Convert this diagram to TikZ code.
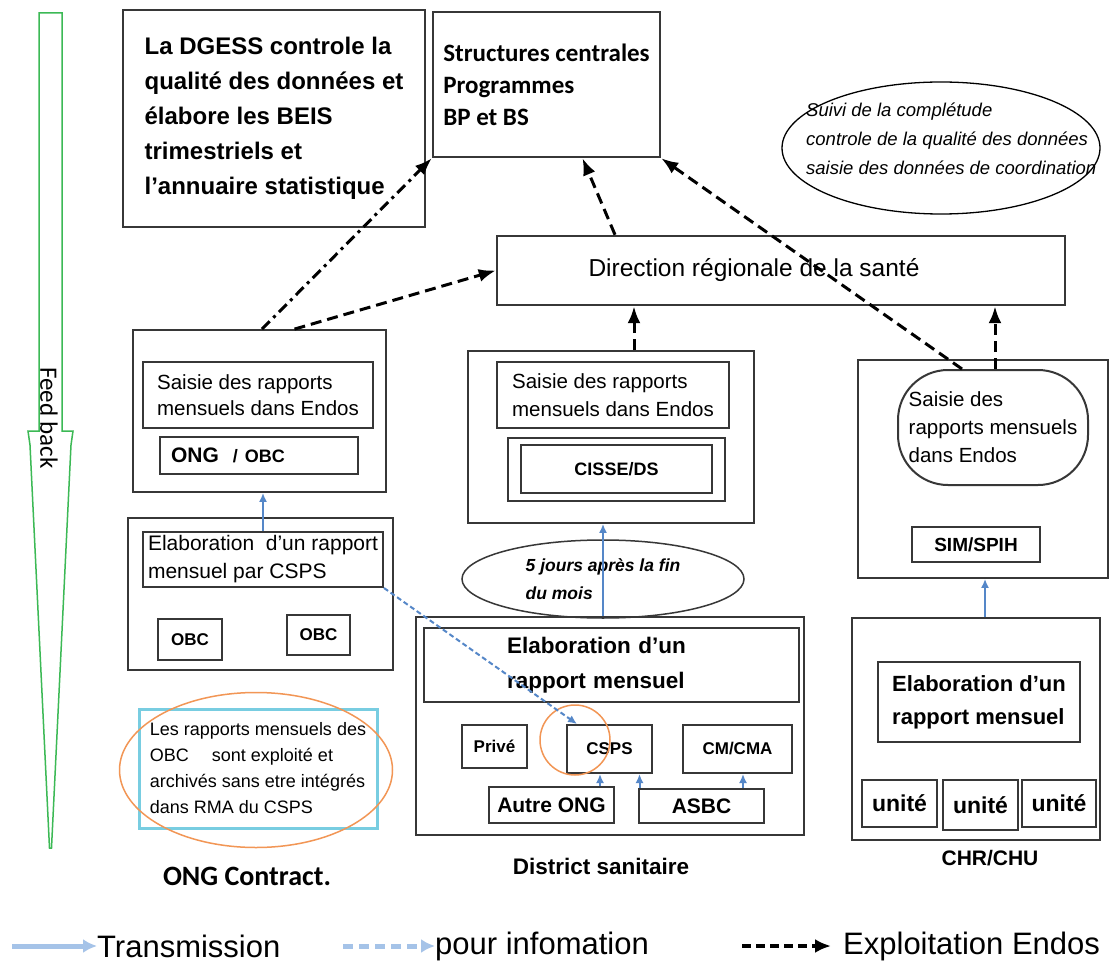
\documentclass[tikz,border=0pt]{standalone}
\usepackage{fontspec}
\setmainfont{Liberation Sans}
\newfontfamily\calfont{Carlito}
\usepackage{tikz}
\usetikzlibrary{arrows.meta,shapes.geometric,positioning}
\definecolor{boxgray}{RGB}{55,55,55}
\definecolor{transblue}{RGB}{85,135,200}
\definecolor{legblue}{RGB}{165,195,232}
\definecolor{fbgreen}{RGB}{60,185,85}
\definecolor{noteorange}{RGB}{242,150,85}
\definecolor{notecyan}{RGB}{120,205,225}
\newcommand{\fsz}[2]{\fontsize{#1}{#2}\selectfont}
\tikzstyle{box} = [rectangle, draw=boxgray, line width=2pt, inner sep=0pt, align=left]
\tikzstyle{frame} = [rectangle, draw=boxgray, line width=1.8pt, inner sep=0pt]
\tikzstyle{tag} = [box, align=center, font=\bfseries\fsz{17}{20}]
\tikzstyle{trans} = [line width=2pt, color=transblue, -{Latex[length=9pt,width=8pt]}]
\tikzstyle{info} = [line width=2pt, color=transblue, dash pattern=on 5pt off 3pt, -{Latex[length=9pt,width=8pt]}]
\tikzstyle{exploit} = [line width=3pt, dash pattern=on 11pt off 6pt, -{Latex[length=17pt,width=13pt]}]
\tikzstyle{exploitdot} = [line width=3pt, dash pattern=on 11pt off 5pt on 3pt off 5pt, -{Latex[length=17pt,width=13pt]}]

\begin{document}
\begin{tikzpicture}[x=1pt, y=-1pt]
\useasboundingbox (0,0) rectangle (1113,965);
\fill[white] (0,0) rectangle (1113,965);

% Feed back
\draw[fbgreen, line width=1.5pt] (39,13) -- (62,13) -- (62,431) -- (73,431) -- (71,445) -- (51.5,848) -- (49.5,848) -- (30,445) -- (28,431) -- (39,431) -- cycle;
\node (fb) [rotate=-90, font=\calfont\fsz{25}{28}] at (49,418) {Feed back};

% Central level
\node (dgess) [box, line width=2.5pt, minimum width=302, minimum height=217, font=\bfseries\fsz{24}{35}] at (274,118.5) {La DGESS controle la\\qualité des données et\\élabore les BEIS\\trimestriels et\\l'annuaire statistique};
\node (struct) [box, line width=2.5pt, minimum width=227, minimum height=145, font=\calfont\bfseries\fsz{25}{32}] at (546.5,84.5) {Structures centrales\\Programmes\\BP et BS};
\node (suivi) [ellipse, draw, line width=1.3pt, minimum width=318, minimum height=132, inner sep=0pt] at (941,148) {};
\node (suivitxt) [anchor=west, inner sep=0pt, align=left, font=\itshape\fsz{18.5}{29}] at (806,139) {Suivi de la complétude\\controle de la qualité des données\\saisie des données de coordination};
\node (dir) [box, line width=2.5pt, minimum width=568, minimum height=69, font=\fsz{24.5}{28}] at (781,270.5) {Direction régionale de la santé\hspace*{54pt}};

% ONG Contract.
\node (ongout) [frame, minimum width=253, minimum height=162] at (259.5,411) {};
\node (saisieong) [box, minimum width=230, minimum height=66, font=\fsz{20.5}{26}] at (258,395) {Saisie des rapports\\mensuels dans Endos};
\node (ongobc) [box, minimum width=198, minimum height=37, text width=176, font=\bfseries\fsz{21}{24}] at (259,455.5) {ONG\ \ {\fsz{18}{24}/ OBC}};
\node (ongelab) [frame, line width=1.5pt, minimum width=265, minimum height=152] at (260.5,594) {};
\node (elabcsps) [box, minimum width=240, minimum height=55, font=\fsz{21}{28}] at (263,559.5) {Elaboration\ \ d'un rapport\\mensuel par CSPS};
\node (obca) [tag, minimum width=64, minimum height=41] at (190,639.5) {OBC};
\node (obcb) [tag, minimum width=63, minimum height=40] at (318.5,635) {OBC};
\node (note) [box, draw=notecyan, line width=3pt, fill=white, minimum width=238, minimum height=119, font=\fsz{18}{26}] at (258,768.5) {Les rapports mensuels des\\OBC\quad\ sont exploité et\\archivés sans etre intégrés\\dans RMA du CSPS};
\node (noteoval) [ellipse, draw=noteorange, line width=1.5pt, minimum width=273, minimum height=155] at (256,770) {};
\node (ongc) [font=\calfont\bfseries\fsz{28}{30}] at (247,876) {ONG Contract.};

% District sanitaire
\node (cisseout) [frame, minimum width=286, minimum height=172] at (611,437) {};
\node (saisieds) [box, minimum width=232, minimum height=66, font=\fsz{20.5}{28}] at (613,395) {Saisie des rapports\\mensuels dans Endos};
\node (cisseframe) [frame, line width=1.3pt, minimum width=217, minimum height=63] at (616.5,469.5) {};
\node (cisse) [tag, font=\bfseries\fsz{18}{20}, minimum width=191, minimum height=48] at (616.5,469) {CISSE/DS};
\node (delai) [ellipse, draw=boxgray, line width=1.5pt, minimum width=282, minimum height=78, inner sep=0pt, align=left, font=\bfseries\itshape\fsz{17.5}{28}] at (603,579) {5 jours après la fin\\du mois};
\node (district) [frame, minimum width=388, minimum height=218] at (610,726) {};
\node (elabds) [box, minimum width=375, minimum height=74, text width=209, font=\bfseries\fsz{22.5}{35}] at (611.5,665) {Elaboration d'un\\rapport mensuel};
\node (prive) [tag, minimum width=65, minimum height=43] at (494.5,746.5) {Privé};
\node (csps) [tag, minimum width=85, minimum height=48] at (609.5,749) {CSPS};
\node (cmcma) [tag, minimum width=109, minimum height=48] at (737.5,749) {CM/CMA};
\node (autreong) [tag, font=\bfseries\fsz{21}{24}, minimum width=125, minimum height=36] at (551.5,805) {Autre ONG};
\node (asbc) [tag, font=\bfseries\fsz{21}{24}, minimum width=125, minimum height=34] at (701.5,806) {ASBC};
\node (cspsring) [circle, draw=noteorange, line width=1.5pt, minimum size=70, inner sep=0pt] at (575,740) {};
\node (dslabel) [font=\bfseries\fsz{22.5}{26}] at (601,866) {District sanitaire};

% CHR/CHU
\node (simout) [frame, minimum width=250, minimum height=218] at (983,469) {};
\node (saisiesim) [box, rounded corners=50pt, minimum width=190, minimum height=115, font=\fsz{20.5}{28}] at (993,427.5) {Saisie des\\rapports mensuels\\dans Endos};
\node (sim) [tag, font=\bfseries\fsz{19}{22}, minimum width=128, minimum height=35] at (976,544.5) {SIM/SPIH};
\node (chr) [frame, minimum width=248, minimum height=222] at (976,729) {};
\node (elabchr) [box, minimum width=202, minimum height=80, font=\bfseries\fsz{22}{33}] at (979,702) {Elaboration d'un\\rapport mensuel};
\node (unitea) [tag, font=\bfseries\fsz{23}{26}, minimum width=75, minimum height=47] at (899.5,803.5) {unité};
\node (uniteb) [tag, font=\bfseries\fsz{23}{26}, minimum width=75, minimum height=50] at (980.5,805) {unité};
\node (unitec) [tag, font=\bfseries\fsz{23}{26}, minimum width=74, minimum height=47] at (1059,803.5) {unité};
\node (chrlabel) [font=\bfseries\fsz{21}{24}] at (990,858) {CHR/CHU};

% Transmission
\draw[trans] (elabcsps.north) -- (elabcsps.north |- ongout.south);
\draw[trans] ([xshift=-7]district.north) -- ([xshift=-7]district.north |- cisseout.south);
\draw[trans] ([xshift=48.5]autreong.north) -- ([xshift=48.5]autreong.north |- csps.south);
\draw[trans] ([xshift=-62]asbc.north) -- ([xshift=-62]asbc.north |- csps.south);
\draw[trans] ([xshift=41.5]asbc.north) -- ([xshift=41.5]asbc.north |- cmcma.south);
\draw[trans] ([xshift=9]chr.north) -- ([xshift=9]chr.north |- simout.south);

% pour information
\draw[info] (elabcsps.south east) -- ([xshift=11]csps.north west);

% Exploitation Endos
\draw[exploitdot] ([xshift=2.5]ongout.north) -- (struct.south west);
\draw[exploit] ([xshift=35]ongout.north) -- (dir.west);
\draw[exploit] ([xshift=-166]dir.north) -- ([xshift=36]struct.south);
\draw[exploit] ([xshift=-31]saisiesim.north) -- (struct.south east);
\draw[exploit] ([xshift=2]saisiesim.north) -- ([xshift=2]saisiesim.north |- dir.south);
\draw[exploit] ([xshift=23]cisseout.north) -- ([xshift=23]cisseout.north |- dir.south);

% Legend
\node (legtrans) [anchor=west, inner sep=0pt, font=\fsz{31}{34}] at (97,946) {Transmission};
\draw[legblue, line width=5pt, -{Latex[length=14pt,width=14pt]}] ([xshift=-85]legtrans.west) -- (legtrans.west);
\node (leginfo) [anchor=west, inner sep=0pt, font=\fsz{31}{34}] at (435,946) {pour infomation};
\draw[legblue, line width=5pt, dash pattern=on 10pt off 6pt, -{Latex[length=14pt,width=14pt]}] ([xshift=-92]leginfo.west) -- (leginfo.west);
\node (legexp) [anchor=west, inner sep=0pt, font=\fsz{31}{34}] at (843,946) {Exploitation Endos};
\draw[line width=4pt, dash pattern=on 9pt off 5pt, -{Latex[length=16pt,width=14pt]}] ([xshift=-101]legexp.west) -- ([xshift=-12]legexp.west);
\end{tikzpicture}
\end{document}
